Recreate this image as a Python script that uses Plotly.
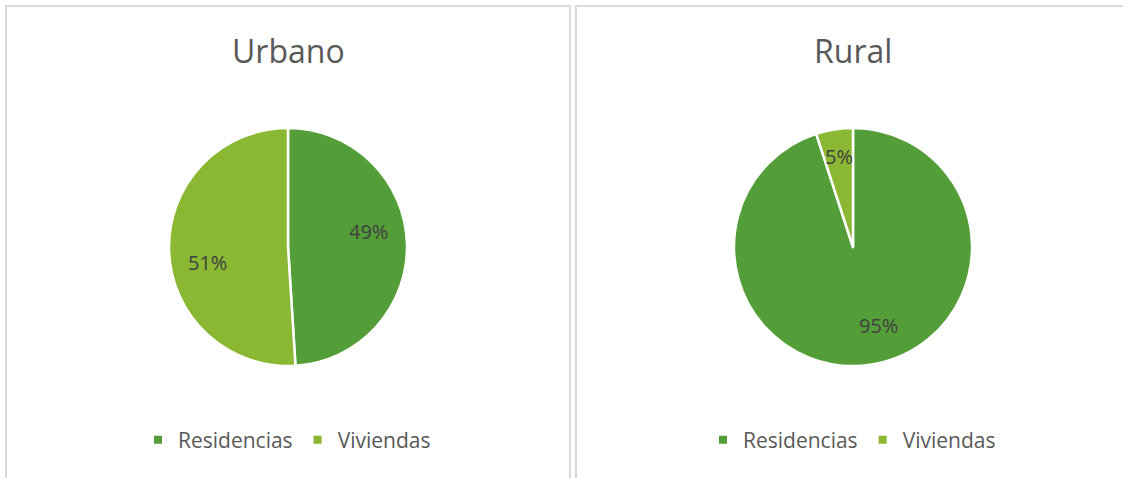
import math
import plotly.graph_objects as go

# Shares of each housing type by area
categories = ["Residencias", "Viviendas"]
urbano_values = [49, 51]
rural_values = [95, 5]
panel_titles = ["Urbano", "Rural"]

colors = ["#549E39", "#8AB833"]
W, H = 1123, 478
FONT = "Open Sans"
RADIUS = 119
CENTER_Y = 247
PANELS = [
    dict(title=panel_titles[0], values=urbano_values, cx=288, legend="legend"),
    dict(title=panel_titles[1], values=rural_values, cx=853, legend="legend2"),
]


def px_x(x):
    return x / W


def px_y(y):
    return 1 - y / H


fig = go.Figure()
annotations = []

for p in PANELS:
    cx = p["cx"]
    fig.add_trace(go.Pie(
        labels=categories,
        values=p["values"],
        sort=False,
        direction="clockwise",
        rotation=0,
        marker=dict(colors=colors, line=dict(color="white", width=2.5)),
        textinfo="none",
        showlegend=False,
        domain=dict(x=[px_x(cx - RADIUS), px_x(cx + RADIUS)],
                    y=[px_y(CENTER_Y + RADIUS), px_y(CENTER_Y - RADIUS)]),
        hoverinfo="label+percent",
    ))

    # percentage labels placed inside each slice, near its mid-angle
    total = sum(p["values"])
    start = 0.0
    for v in p["values"]:
        frac = v / total
        big = frac > 0.1
        mid = (start + frac / 2) * 2 * math.pi - (math.radians(9) if big else 0)
        start += frac
        r = RADIUS * (0.69 if big else 0.77)
        annotations.append(dict(
            text=f"{frac:.0%}", xref="paper", yref="paper",
            x=px_x(cx + r * math.sin(mid)), y=px_y(CENTER_Y - r * math.cos(mid)),
            xanchor="center", yanchor="middle", showarrow=False,
            font=dict(family=FONT, size=20, color="#404040"),
        ))

    annotations.append(dict(
        text=p["title"], x=px_x(cx), y=px_y(50), xref="paper", yref="paper",
        xanchor="center", yanchor="middle", showarrow=False,
        font=dict(family=FONT, size=32, color="#595959"),
    ))

    # legend entries for this panel
    for name, col in zip(categories, colors):
        fig.add_trace(go.Scatter(
            x=[None], y=[None], mode="markers", name=name,
            marker=dict(symbol="square", size=8, color=col),
            legend=p["legend"], hoverinfo="skip",
        ))

legend_style = dict(
    orientation="h",
    xanchor="center",
    yanchor="middle",
    y=px_y(440),
    font=dict(family=FONT, size=21, color="#595959"),
    bgcolor="rgba(0,0,0,0)",
    itemclick=False,
    itemdoubleclick=False,
    traceorder="normal",
)

fig.update_layout(
    width=W,
    height=H,
    margin=dict(l=0, r=0, t=0, b=0),
    paper_bgcolor="white",
    plot_bgcolor="white",
    showlegend=True,
    xaxis=dict(visible=False, domain=[0, 0.01]),
    yaxis=dict(visible=False, domain=[0, 0.01]),
    legend=dict(x=px_x(287), **legend_style),
    legend2=dict(x=px_x(852), **legend_style),
    shapes=[
        dict(type="rect", xref="paper", yref="paper",
             x0=px_x(6), x1=px_x(570), y0=-0.05, y1=px_y(6),
             line=dict(color="#D9D9D9", width=2), fillcolor="rgba(0,0,0,0)"),
        dict(type="rect", xref="paper", yref="paper",
             x0=px_x(576), x1=1.05, y0=-0.05, y1=px_y(6),
             line=dict(color="#D9D9D9", width=2), fillcolor="rgba(0,0,0,0)"),
    ],
    annotations=annotations,
)

fig.write_html("out.html")
